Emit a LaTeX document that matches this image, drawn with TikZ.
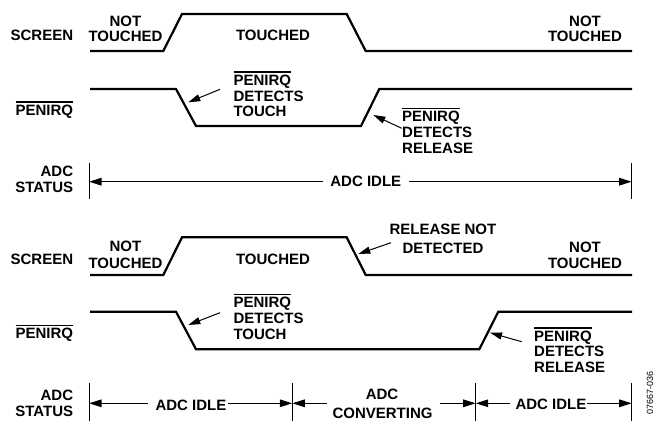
\documentclass[tikz,border=0pt]{standalone}
\usepackage{fontspec}
\setmainfont{Liberation Sans}
\usetikzlibrary{arrows.meta}
\newcommand\ovl[1]{\setbox0\hbox{#1}\rlap{\rule[\dimexpr\ht0+2pt\relax]{\wd0}{1.3pt}}\box0}
\begin{document}
\begin{tikzpicture}[x=1pt,y=-1pt,
  sig/.style={line width=2.2pt, line join=miter, line cap=butt},
  lbl/.style={font=\fontsize{15}{16}\selectfont\bfseries, inner sep=0pt, anchor=base},
  lblr/.style={lbl, anchor=base east},
  lbll/.style={lbl, anchor=base west},
  pointer/.style={line width=1pt, -{Triangle[length=12pt,width=7pt]}},
  adc/.style={line width=1.3pt, -{Triangle[length=12.5pt,width=7.5pt]}},
  bar/.style={line width=1pt}]
\useasboundingbox (0,0) rectangle (654,421);

% ================= TOP DIAGRAM =================
\node[lblr] (s1) at (73.3,40) {SCREEN};
\node[lbl] (nt1a) at (125.5,26) {NOT};
\node[lbl] (nt1b) at (125.5,41.7) {TOUCHED};
\node[lbl] (t1) at (273,40) {TOUCHED};
\node[lbl] (nt1c) at (585,26) {NOT};
\node[lbl] (nt1d) at (585,41.7) {TOUCHED};

\draw[sig] (90,51) -- (163.3,51) -- (182,14) -- (346.7,14) -- (365.7,51) -- (632,51);

\node[lblr] (p1) at (73.3,115) {\ovl{PENIRQ}};
\draw[sig] (90,89) -- (176,89) -- (196,126) -- (361,126) -- (379.3,89) -- (632,89);

\node[lbll] (dt1a) at (233.3,85) {\ovl{PENIRQ}};
\node[lbll] (dt1b) at (233.3,101.7) {DETECTS};
\node[lbll] (dt1c) at (233.3,116.7) {TOUCH};
\coordinate (ta1s) at (220,89.3);
\coordinate (ta1e) at (188.3,102.3);
\draw[pointer] (ta1s) -- (ta1e);

\node[lbll] (dr1a) at (402,121.7) {\ovl{PENIRQ}};
\node[lbll] (dr1b) at (402,137.3) {DETECTS};
\node[lbll] (dr1c) at (402,153.3) {RELEASE};
\coordinate (ra1s) at (401.7,128.3);
\coordinate (ra1e) at (373.3,115);
\draw[pointer] (ra1s) -- (ra1e);

\node[lblr] (a1a) at (73.3,176.7) {ADC};
\node[lblr] (a1b) at (73.3,192.7) {STATUS};
\coordinate (b1t) at (89,163.3);
\coordinate (b1b) at (89,199.3);
\coordinate (b2t) at (631.7,163.3);
\coordinate (b2b) at (631.7,199.3);
\draw[bar] (b1t) -- (b1b);
\draw[bar] (b2t) -- (b2b);
\node[lbl] (idle1) at (365.8,186.7) {ADC IDLE};
\coordinate (l1s) at (323,181.7);
\coordinate (l1e) at (89,181.7);
\coordinate (r1s) at (409,181.7);
\coordinate (r1e) at (631.7,181.7);
\draw[adc] (l1s) -- (l1e);
\draw[adc] (r1s) -- (r1e);

% ================= BOTTOM DIAGRAM =================
\node[lblr] (s2) at (73.3,264.3) {SCREEN};
\node[lbl] (nt2a) at (125.5,251.7) {NOT};
\node[lbl] (nt2b) at (125.5,268.3) {TOUCHED};
\node[lbl] (t2) at (273,264.3) {TOUCHED};
\node[lbl] (rn2a) at (443,234) {RELEASE NOT};
\node[lbl] (rn2b) at (443,253.3) {DETECTED};
\node[lbl] (nt2c) at (585,252.3) {NOT};
\node[lbl] (nt2d) at (585,268.3) {TOUCHED};

\draw[sig] (90,275) -- (163.3,275) -- (182,237.3) -- (346.7,237.3) -- (365.7,275) -- (632,275);
\coordinate (rna2s) at (391,242.7);
\coordinate (rna2e) at (358.3,254);
\draw[pointer] (rna2s) -- (rna2e);

\node[lblr] (p2) at (73.3,338.3) {\ovl{PENIRQ}};
\draw[sig] (90,311.7) -- (176,311.7) -- (196,349.3) -- (479.3,349.3) -- (498.3,311.7) -- (632,311.7);

\node[lbll] (dt2a) at (233.3,307.3) {\ovl{PENIRQ}};
\node[lbll] (dt2b) at (233.3,323.3) {DETECTS};
\node[lbll] (dt2c) at (233.3,339.3) {TOUCH};
\coordinate (ta2s) at (220,312.7);
\coordinate (ta2e) at (188.3,325);
\draw[pointer] (ta2s) -- (ta2e);

\node[lbll] (dr2a) at (534,341) {\ovl{PENIRQ}};
\node[lbll] (dr2b) at (534,356.5) {DETECTS};
\node[lbll] (dr2c) at (534,372) {RELEASE};
\coordinate (ra2s) at (521.7,341.7);
\coordinate (ra2e) at (490,332.7);
\draw[pointer] (ra2s) -- (ra2e);

\node[lblr] (a2a) at (73.3,400.7) {ADC};
\node[lblr] (a2b) at (73.3,416.7) {STATUS};
\coordinate (c1t) at (89,383.3);
\coordinate (c1b) at (89,421);
\coordinate (c2t) at (292.3,383.3);
\coordinate (c2b) at (292.3,421);
\coordinate (c3t) at (475.7,383.3);
\coordinate (c3b) at (475.7,421);
\coordinate (c4t) at (631.7,383.3);
\coordinate (c4b) at (631.7,421);
\draw[bar] (c1t) -- (c1b);
\draw[bar] (c2t) -- (c2b);
\draw[bar] (c3t) -- (c3b);
\draw[bar] (c4t) -- (c4b);

\node[lbl] (idle2) at (191,410) {ADC IDLE};
\node[lbl] (conv2a) at (382,399.3) {ADC};
\node[lbl] (conv2b) at (382.5,418.3) {CONVERTING};
\node[lbl] (idle3) at (551,409.3) {ADC IDLE};

\coordinate (m1s) at (148,403.3);
\coordinate (m1e) at (89,403.3);
\coordinate (m2s) at (228,403.3);
\coordinate (m2e) at (292.3,403.3);
\coordinate (m3s) at (327,403.3);
\coordinate (m3e) at (292.3,403.3);
\coordinate (m4s) at (440,403.3);
\coordinate (m4e) at (475.7,403.3);
\coordinate (m5s) at (510,403.3);
\coordinate (m5e) at (475.7,403.3);
\coordinate (m6s) at (586.7,403.3);
\coordinate (m6e) at (631.7,403.3);
\draw[adc] (m1s) -- (m1e);
\draw[adc] (m2s) -- (m2e);
\draw[adc] (m3s) -- (m3e);
\draw[adc] (m4s) -- (m4e);
\draw[adc] (m5s) -- (m5e);
\draw[adc] (m6s) -- (m6e);

\node[rotate=90, inner sep=0pt, font=\fontsize{9}{10}\selectfont] (fig) at (650,393) {07667-036};
\end{tikzpicture}
\end{document}
